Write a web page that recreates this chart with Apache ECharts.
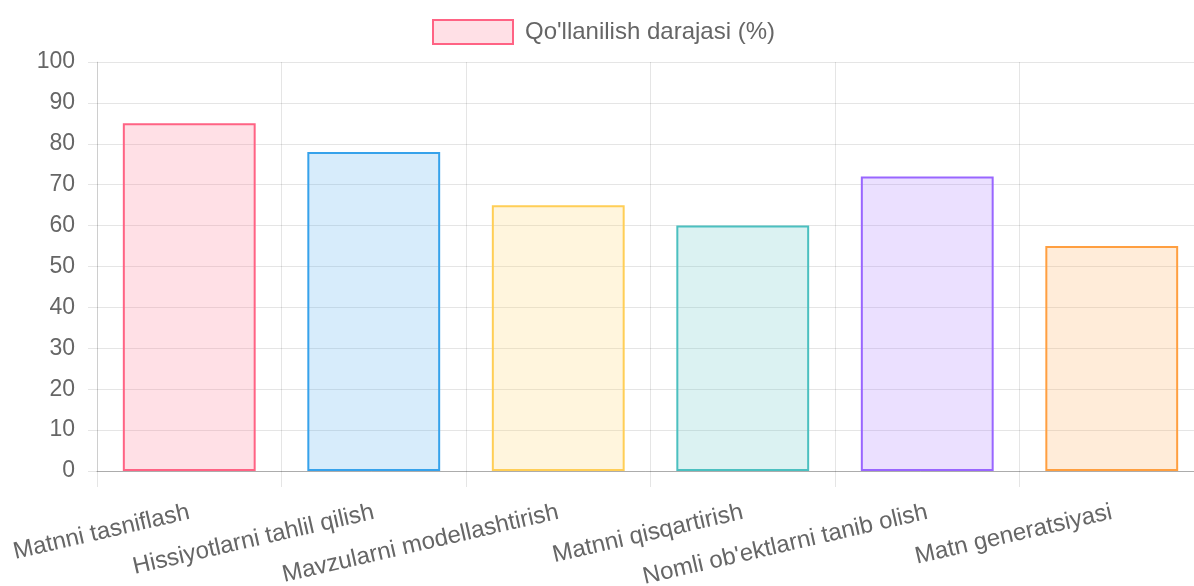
<!DOCTYPE html>
<html>
<head>
<meta charset="utf-8">
<script src="https://cdn.jsdelivr.net/npm/echarts@6/dist/echarts.min.js"></script>
<style>html,body{margin:0;padding:0;background:#fff}#c{width:1194px;height:586px}</style>
</head>
<body>
<div id="c"></div>
<script>
const categories = ["Matnni tasniflash", "Hissiyotlarni tahlil qilish", "Mavzularni modellashtirish", "Matnni qisqartirish", "Nomli ob'ektlarni tanib olish", "Matn generatsiyasi"];
const values = [85, 78, 65, 60, 72, 55];
const seriesName = "Qo'llanilish darajasi (%)";
const borderColors = ["rgb(255,99,132)", "rgb(54,162,235)", "rgb(255,206,86)", "rgb(75,192,192)", "rgb(153,102,255)", "rgb(255,159,64)"];
const fillColors = ["rgba(255,99,132,0.2)", "rgba(54,162,235,0.2)", "rgba(255,206,86,0.2)", "rgba(75,192,192,0.2)", "rgba(153,102,255,0.2)", "rgba(255,159,64,0.2)"];

const chart = echarts.init(document.getElementById('c'));
const font = "'Liberation Sans', Arial, sans-serif";
chart.setOption({
  animation: false,
  textStyle: { fontFamily: font },
  legend: {
    top: 19, left: 432, padding: 0,
    icon: 'rect',
    itemWidth: 80, itemHeight: 24, itemGap: 10,
    textStyle: { color: '#666', fontSize: 24, fontFamily: font, padding: [0,0,0,7] },
    data: [{ name: seriesName, itemStyle: { color: fillColors[0], borderColor: borderColors[0], borderWidth: 2 } }]
  },
  grid: { left: 97, width: 1107, top: 62, bottom: 115, containLabel: false, outerBoundsMode: 'none' },
  xAxis: {
    type: 'category', data: categories, boundaryGap: true,
    axisLine: { show: true, lineStyle: { color: 'rgba(0,0,0,0.25)', width: 1 } },
    axisTick: { show: true, length: 16, alignWithLabel: false, lineStyle: { color: 'rgba(0,0,0,0.1)' } },
    splitLine: { show: true, lineStyle: { color: 'rgba(0,0,0,0.1)' } },
    axisLabel: { rotate: 13, interval: 0, margin: 41, color: '#666', fontSize: 24, fontFamily: font }
  },
  yAxis: {
    type: 'value', min: 0, max: 100, interval: 10,
    axisLine: { show: true, lineStyle: { color: 'rgba(0,0,0,0.1)' } },
    axisTick: { show: true, length: 9, lineStyle: { color: 'rgba(0,0,0,0.1)' } },
    splitLine: { show: true, lineStyle: { color: 'rgba(0,0,0,0.1)' } },
    axisLabel: { margin: 22, color: '#666', fontSize: 23, fontFamily: font }
  },
  series: [{
    name: seriesName, type: 'bar', barWidth: '72%',
    data: values.map((v, i) => ({ value: v, itemStyle: { color: fillColors[i], borderColor: borderColors[i], borderWidth: 2 } })),
    itemStyle: { color: fillColors[0], borderColor: borderColors[0], borderWidth: 2 }
  }]
});
</script>
</body>
</html>
